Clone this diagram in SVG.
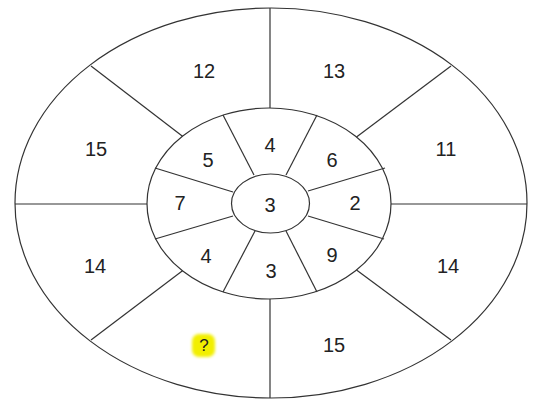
<svg xmlns="http://www.w3.org/2000/svg" width="546" height="406" viewBox="0 0 546 406">
<style>
.l{stroke:#333;stroke-width:1.2;fill:none}
.t{font-family:"Liberation Sans",Arial,sans-serif;font-size:20px;fill:#222;text-anchor:middle;dominant-baseline:central}
</style>
<defs><filter id="b" x="-30%" y="-30%" width="160%" height="160%"><feGaussianBlur stdDeviation="1.5"/></filter></defs>
<rect width="546" height="406" fill="#fff"/>
<g id="connectors">
<ellipse class="l" cx="271" cy="203" rx="256" ry="195"/>
<ellipse class="l" cx="269" cy="203.5" rx="122" ry="95.5"/>
<ellipse class="l" cx="270.5" cy="203.5" rx="39" ry="29.5"/>
<line class="l" x1="270" y1="8" x2="270" y2="108"/>
<line class="l" x1="270" y1="299" x2="270" y2="398"/>
<line class="l" x1="15" y1="204" x2="147" y2="204"/>
<line class="l" x1="391" y1="204" x2="527" y2="204"/>
<line class="l" x1="91" y1="66" x2="182.5" y2="136.2"/>
<line class="l" x1="451" y1="66" x2="356.5" y2="136.9"/>
<line class="l" x1="91" y1="340" x2="182.5" y2="270.8"/>
<line class="l" x1="451" y1="340" x2="356.5" y2="270.1"/>
<line class="l" x1="223" y1="115" x2="254" y2="175"/>
<line class="l" x1="317" y1="115" x2="286" y2="175"/>
<line class="l" x1="155" y1="168" x2="233" y2="192"/>
<line class="l" x1="385" y1="168" x2="308" y2="191"/>
<line class="l" x1="155" y1="239" x2="233" y2="216"/>
<line class="l" x1="384" y1="239" x2="308" y2="216"/>
<line class="l" x1="223" y1="292" x2="255" y2="231"/>
<line class="l" x1="317" y1="292" x2="286" y2="231"/>
</g>
<g id="n12"><text class="t" x="204" y="71">12</text></g>
<g id="n13"><text class="t" x="334" y="71">13</text></g>
<g id="n15a"><text class="t" x="96" y="149">15</text></g>
<g id="n11"><text class="t" x="446" y="149">11</text></g>
<g id="n14a"><text class="t" x="95" y="266">14</text></g>
<g id="n14b"><text class="t" x="448" y="266">14</text></g>
<g id="nq"><rect x="192" y="334" width="23" height="23" rx="7" fill="#f2ef00" filter="url(#b)"/><text class="t" x="204" y="345" style="font-size:17px">?</text></g>
<g id="n15b"><text class="t" x="334" y="345">15</text></g>
<g id="i4a"><text class="t" x="270" y="145">4</text></g>
<g id="i5"><text class="t" x="208" y="160">5</text></g>
<g id="i6"><text class="t" x="332" y="160">6</text></g>
<g id="i7"><text class="t" x="180" y="203">7</text></g>
<g id="c3"><text class="t" x="270" y="205">3</text></g>
<g id="i2"><text class="t" x="355" y="203">2</text></g>
<g id="i4b"><text class="t" x="206" y="256">4</text></g>
<g id="i9"><text class="t" x="332" y="255">9</text></g>
<g id="i3"><text class="t" x="271" y="271">3</text></g>
</svg>
